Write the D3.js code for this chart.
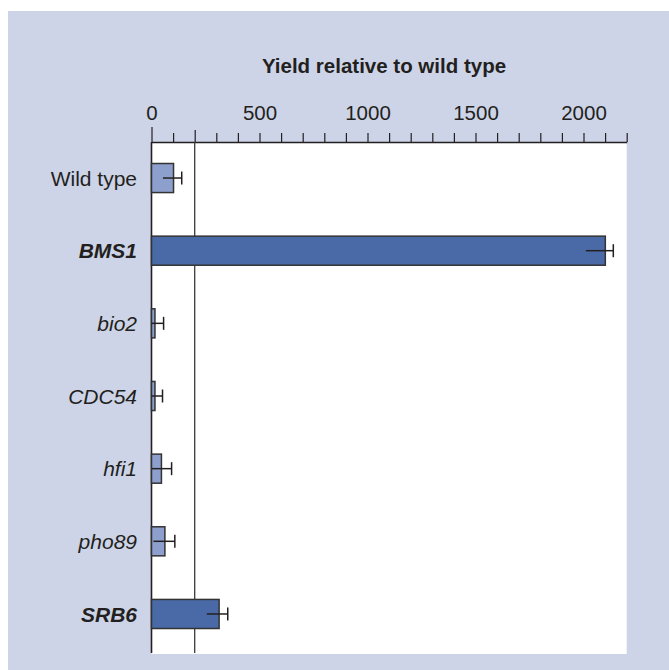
<!DOCTYPE html>
<html>
<head>
<meta charset="utf-8">
<script src="https://cdn.jsdelivr.net/npm/d3@7"></script>
<style>
  html, body { margin: 0; padding: 0; background: #fff; }
  svg { display: block; font-family: "Liberation Sans", Arial, Helvetica, sans-serif; }
</style>
</head>
<body>
<svg id="chart" width="669" height="670"></svg>
<script>
'use strict';

// data
var strains = ["Wild type", "BMS1", "bio2", "CDC54", "hfi1", "pho89", "SRB6"];
var yieldValues = [102, 2101, 16, 16, 46, 62, 313];
var errLow = [53, 2011, 0, 0, 2, 9, 256];
var errHigh = [140, 2138, 56, 51, 93, 108, 353];
var boldStrains = ["BMS1", "SRB6"];        // over-producers, dark bars
var italicStrains = ["BMS1", "bio2", "CDC54", "hfi1", "pho89", "SRB6"];
var majorTicks = [0, 500, 1000, 1500, 2000];
var referenceValue = 200;
var axisTitle = "Yield relative to wild type";

var svg = d3.select("#chart");

var colors = {
    panel: "#cdd4e7",
    light: "#8d9fcc",
    dark: "#4a6aa7",
    ink: "#231f20"
};

var plot = { left: 151.5, right: 626.7, top: 142, bottom: 654 };

var x = d3.scaleLinear()
    .domain([0, 2200])
    .range([plot.left, plot.right]);

var y = d3.scaleBand()
    .domain(strains)
    .range([141.7, 650.3])
    .paddingInner(0.6)
    .paddingOuter(0.3);

// background panel + white plotting area
svg.append("rect")
    .attr("x", 8).attr("y", 11)
    .attr("width", 669 - 8).attr("height", 670 - 11)
    .attr("fill", colors.panel);

svg.append("rect")
    .attr("x", plot.left).attr("y", plot.top)
    .attr("width", plot.right - plot.left).attr("height", plot.bottom - plot.top)
    .attr("fill", "#fff");

// title
svg.append("text")
    .attr("x", 384).attr("y", 73)
    .attr("text-anchor", "middle")
    .style("font-size", "20.5px")
    .style("font-weight", "bold")
    .attr("fill", colors.ink)
    .text(axisTitle);

// top axis: minor ticks every 100, labels every 500
var axis = d3.axisTop(x)
    .tickValues(d3.range(0, 2201, 100))
    .tickSize(9)
    .tickSizeOuter(0)
    .tickFormat(function (d) { return majorTicks.indexOf(d) >= 0 ? d : ""; });

var axisG = svg.append("g")
    .attr("transform", "translate(0," + plot.top + ")")
    .call(axis);

axisG.select(".domain")
    .attr("stroke", colors.ink)
    .attr("stroke-width", 1.6);

axisG.selectAll(".tick line")
    .attr("stroke", colors.ink)
    .attr("stroke-width", 1.2)
    .attr("y2", function (d) { return d === 0 ? -15 : (d === referenceValue ? -12 : -9); });

axisG.selectAll(".tick text")
    .attr("y", -22)
    .attr("dy", 0)
    .attr("fill", colors.ink)
    .style("font-size", "20.5px")
    .style("font-family", "\"Liberation Sans\", Arial, sans-serif");

// left axis line and reference line at wild-type-ish level
svg.append("line")
    .attr("x1", x(0)).attr("x2", x(0))
    .attr("y1", plot.top).attr("y2", 653)
    .attr("stroke", colors.ink)
    .attr("stroke-width", 1.6);

svg.append("line")
    .attr("x1", x(referenceValue)).attr("x2", x(referenceValue))
    .attr("y1", plot.top).attr("y2", 653)
    .attr("stroke", "#3a3a3a")
    .attr("stroke-width", 1.3);

// bars
var rows = strains.map(function (s, i) {
    return { name: s, value: yieldValues[i], lo: errLow[i], hi: errHigh[i] };
});

var row = svg.selectAll(".row")
    .data(rows)
    .enter().append("g")
    .attr("class", "row");

row.append("rect")
    .attr("x", x(0))
    .attr("y", function (d) { return y(d.name); })
    .attr("width", function (d) { return x(d.value) - x(0); })
    .attr("height", y.bandwidth())
    .attr("fill", function (d) { return boldStrains.indexOf(d.name) >= 0 ? colors.dark : colors.light; })
    .attr("stroke", "#333")
    .attr("stroke-width", 1.5);

// error bars
row.append("line")
    .attr("x1", function (d) { return x(d.lo); })
    .attr("x2", function (d) { return x(d.hi); })
    .attr("y1", function (d) { return y(d.name) + y.bandwidth() / 2; })
    .attr("y2", function (d) { return y(d.name) + y.bandwidth() / 2; })
    .attr("stroke", colors.ink)
    .attr("stroke-width", 1.5);

row.append("line")
    .attr("x1", function (d) { return x(d.hi); })
    .attr("x2", function (d) { return x(d.hi); })
    .attr("y1", function (d) { return y(d.name) + y.bandwidth() / 2 - 6.5; })
    .attr("y2", function (d) { return y(d.name) + y.bandwidth() / 2 + 6.5; })
    .attr("stroke", colors.ink)
    .attr("stroke-width", 1.5);

// category labels
row.append("text")
    .attr("x", 137)
    .attr("y", function (d) { return y(d.name) + y.bandwidth() / 2; })
    .attr("dy", "0.36em")
    .attr("text-anchor", "end")
    .attr("fill", colors.ink)
    .style("font-size", "21px")
    .style("font-style", function (d) { return italicStrains.indexOf(d.name) >= 0 ? "italic" : "normal"; })
    .style("font-weight", function (d) { return boldStrains.indexOf(d.name) >= 0 ? "bold" : "normal"; })
    .text(function (d) { return d.name; });
</script>
</body>
</html>
